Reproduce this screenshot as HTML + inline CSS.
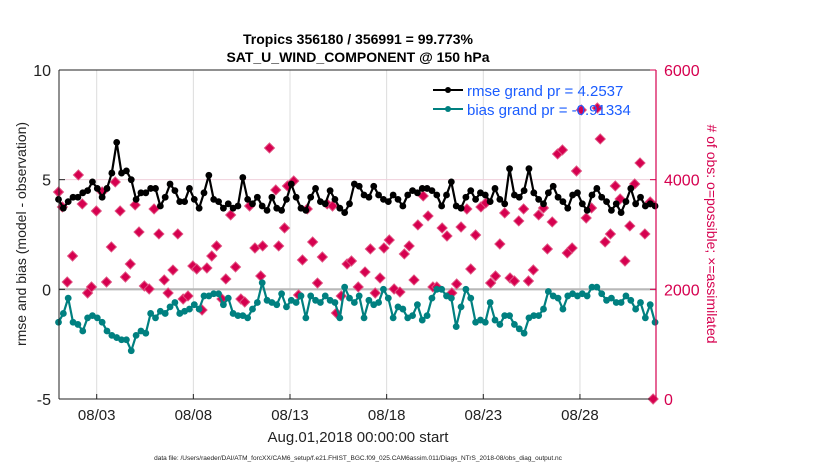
<!DOCTYPE html>
<html><head><meta charset="utf-8"><style>
body{margin:0;background:#fff;}
svg{display:block;font-family:"Liberation Sans",Arial,sans-serif;}
</style></head><body>
<svg id="chart" width="830" height="470" viewBox="0 0 830 470">
<text x="358" y="44" text-anchor="middle" font-size="14" font-weight="bold">Tropics 356180 / 356991 = 99.773%</text>
<text x="358" y="62" text-anchor="middle" font-size="14" font-weight="bold">SAT_U_WIND_COMPONENT @ 150 hPa</text>
<g id="gridG"></g>
<g id="seriesG"></g>
<g id="axesG"></g>
<g>
<line x1="433" y1="90" x2="463" y2="90" stroke="#000" stroke-width="2"/><circle cx="448" cy="90" r="3" fill="#000"/>
<text x="467" y="96" font-size="15" fill="#1a5cff">rmse grand pr = 4.2537</text>
<line x1="433" y1="109" x2="463" y2="109" stroke="#008080" stroke-width="2"/><circle cx="448" cy="109" r="3" fill="#008080"/>
<text x="467" y="115" font-size="15" fill="#1a5cff">bias grand pr = -0.91334</text>
</g>
<text x="358" y="442" text-anchor="middle" font-size="15" fill="#222">Aug.01,2018 00:00:00 start</text>
<text x="358" y="460" text-anchor="middle" font-size="6.5" fill="#222">data file: /Users/raeder/DAI/ATM_forcXX/CAM6_setup/f.e21.FHIST_BGC.f09_025.CAM6assim.011/Diags_NTrS_2018-08/obs_diag_output.nc</text>
<text transform="translate(26,234) rotate(-90)" text-anchor="middle" font-size="14" fill="#222">rmse and bias (model - observation)</text>
<text transform="translate(707,234) rotate(90)" text-anchor="middle" font-size="14" fill="#d6004f"># of obs: o=possible; ×=assimilated</text>
</svg>
<script>
const rmse=[4.1,3.7,4.0,4.2,4.2,4.4,4.5,4.9,4.6,4.2,4.6,5.3,6.7,5.3,5.4,5.0,4.1,4.4,4.4,4.6,4.6,3.8,4.2,4.8,4.5,4.0,4.0,4.6,4.1,3.7,4.4,5.2,4.1,4.0,3.7,3.9,3.7,3.8,5.1,4.1,3.9,4.2,3.8,3.6,4.2,3.7,3.6,4.1,4.8,4.2,3.7,3.6,4.2,4.6,4.0,3.9,4.5,4.1,3.7,3.5,3.9,4.8,4.7,4.3,4.2,4.7,4.3,4.1,4.0,4.3,4.1,3.8,4.3,4.5,4.4,4.6,4.6,4.5,4.3,3.8,4.3,4.9,3.8,3.7,4.2,4.5,4.1,4.4,4.3,4.0,4.6,4.1,3.9,5.5,4.3,4.2,4.5,5.5,4.4,4.1,3.9,4.4,4.7,4.2,4.0,3.7,4.3,4.4,3.9,3.6,4.3,4.6,4.2,4.0,3.6,3.9,3.5,4.0,4.6,3.9,4.2,3.8,3.9,3.8];
const bias=[-1.5,-1.1,-0.4,-1.5,-1.6,-1.9,-1.3,-1.2,-1.3,-1.5,-1.9,-2.1,-2.2,-2.3,-2.3,-2.8,-2.1,-1.9,-2.0,-1.1,-1.3,-1.0,-1.1,-0.8,-0.6,-1.1,-1.0,-0.9,-0.7,-0.9,-0.3,-0.3,-0.2,-0.2,-0.7,-0.4,-1.1,-1.2,-1.2,-1.3,-0.9,-0.6,0.3,-0.5,-0.6,-0.7,-0.2,-0.8,-0.5,-0.6,-0.3,-1.3,-0.3,-0.5,-0.6,-0.3,-0.5,-0.6,-1.3,0.1,-0.4,-0.6,-0.3,-1.3,-0.5,-0.7,-0.6,0.0,-0.4,-1.3,-0.8,-0.9,-1.3,-1.2,-0.7,-1.4,-1.2,-0.4,0.0,0.0,-0.3,-0.4,-1.7,-0.8,0.0,-0.4,-1.5,-1.4,-1.5,-0.6,-1.4,-1.6,-1.2,-1.2,-1.6,-1.8,-2.0,-1.3,-1.2,-1.2,-0.9,-0.1,-0.3,-0.4,-0.9,-0.3,-0.2,-0.3,-0.2,-0.3,0.1,0.1,-0.2,-0.5,-0.4,-0.6,-0.6,-0.3,-0.5,-0.9,-0.6,-1.3,-0.7,-1.5];
const obsIdx=[0.0,0.8,1.8,2.9,4.1,4.9,6.0,6.8,7.8,9.0,9.9,10.9,11.7,12.7,13.8,14.8,15.8,16.6,17.7,18.7,19.7,20.7,21.8,22.6,23.6,24.6,25.7,26.7,27.7,28.5,29.6,30.6,31.6,32.6,33.7,34.5,35.5,36.5,37.6,38.4,39.4,40.5,41.7,42.1,43.5,44.8,45.4,46.6,47.2,48.5,49.5,50.3,51.3,52.4,53.4,54.4,55.4,56.5,57.3,58.3,59.5,60.4,61.8,63.2,64.3,65.3,66.3,67.1,68.2,69.2,70.4,71.3,72.3,73.3,74.1,75.2,76.2,77.2,78.0,79.1,80.1,81.1,82.1,83.0,84.2,85.0,86.0,87.1,88.1,89.1,90.1,91.0,92.0,93.1,94.0,94.9,95.9,96.9,97.9,99.0,100.0,100.8,101.8,102.9,103.9,104.9,105.9,106.8,107.8,108.8,109.9,111.1,111.7,112.7,113.8,114.8,115.8,116.8,117.8,118.8,119.9,120.9,122.0,122.6];
const obsCount=[3775,3502,2134,2608,4086,3557,1933,2043,3429,3776,2134,2773,3958,3429,2225,2462,3539,3046,2061,2006,3466,3010,2171,1933,2352,3010,1824,1879,2426,2371,1623,2389,2608,2791,1824,2189,3356,2408,1824,1769,3520,2754,2243,2791,4578,3812,2791,3119,3885,3976,1897,2536,3466,2864,2115,2590,3557,3520,1568,1879,2462,2517,2043,2317,2736,1933,2207,2754,2900,2006,1951,2645,2791,2171,3174,3703,3338,2043,2043,3119,2973,1933,2097,3137,3465,2371,2991,3502,3575,2115,2243,2827,3393,2207,2152,3247,3466,2152,2353,3356,3484,2736,3229,4469,4542,2663,2754,4158,5271,3301,3484,5307,4742,2864,3010,3885,3648,2517,3156,3922,4305,3010,3593,0];
const leftTicks=[10,5,0,-5];
const rightTicks=[6000,4000,2000,0];
const dateTicks=[3,8,13,18,23,28];
const dateLabels=["08/03","08/08","08/13","08/18","08/23","08/28"];

const NS="http://www.w3.org/2000/svg";
const PL=59,PR=656,PT=70,PB=399;
const xIdx=i=>58.5+i*4.85;
const xDay=d=>96.7+(d-3)*19.33;
const yL=v=>PT+(10-v)/15*(PB-PT);
const yR=v=>PB-v/6000*(PB-PT);
function mk(tag,attrs,parent){const e=document.createElementNS(NS,tag);for(const k in attrs)e.setAttribute(k,attrs[k]);parent.appendChild(e);return e;}
const gridG=document.getElementById('gridG'),seriesG=document.getElementById('seriesG'),axesG=document.getElementById('axesG');
dateTicks.forEach((d,k)=>{
  const l=mk('line',{x1:xDay(d),x2:xDay(d),y1:PT,y2:PB,stroke:'#dcdcdc','stroke-width':1},gridG);
  
  
  const tk=mk('line',{x1:xDay(d),x2:xDay(d),y1:PB,y2:PB-5,stroke:'#222','stroke-width':1},axesG);
  
  
  const t=mk('text',{x:xDay(d),y:PB+21,'text-anchor':'middle','font-size':15,fill:'#222'},axesG);
  t.textContent=dateLabels[k];
  
  
});
const g4=mk('line',{x1:PL,x2:PR,y1:yR(4000),y2:yR(4000),stroke:'#f0d0dc','stroke-width':1},gridG);


const zl=mk('line',{x1:PL,x2:PR,y1:yL(0),y2:yL(0),stroke:'#b8b8b8','stroke-width':2.2},gridG);


obsIdx.forEach((ix,k)=>{
  const cx=xIdx(ix),cy=yR(obsCount[k]);
  const p=mk('path',{d:`M${cx-5},${cy}L${cx},${cy-5}L${cx+5},${cy}L${cx},${cy+5}Z`,fill:'#d6004f',stroke:'#e05080','stroke-width':1},seriesG);
  
  
});
function drawLine(vals,color,name){
  const pts=vals.map((v,i)=>xIdx(i).toFixed(1)+','+yL(v).toFixed(1)).join(' ');
  const pl=mk('polyline',{points:pts,fill:'none',stroke:color,'stroke-width':2.2,'stroke-linejoin':'round'},seriesG);
  
  
  vals.forEach((v,i)=>{
    const c=mk('circle',{cx:xIdx(i),cy:yL(v),r:3.4,fill:color},seriesG);
    
    
  });
}
drawLine(bias,'#008080','bias');
drawLine(rmse,'#000000','rmse');
const topAx=mk('line',{x1:PL,x2:PR,y1:PT,y2:PT,stroke:'#222','stroke-width':1},axesG);


const botAx=mk('line',{x1:PL,x2:PR,y1:PB,y2:PB,stroke:'#222','stroke-width':1},axesG);


const leftAx=mk('line',{x1:PL,x2:PL,y1:PT,y2:PB,stroke:'#222','stroke-width':1},axesG);


const rightAx=mk('line',{x1:PR,x2:PR,y1:PT,y2:PB,stroke:'#d6004f','stroke-width':1.2},axesG);


leftTicks.forEach(v=>{
  const tk=mk('line',{x1:PL,x2:PL+6,y1:yL(v),y2:yL(v),stroke:'#222'},axesG);
  
  
  const t=mk('text',{x:PL-8,y:yL(v)+6,'text-anchor':'end','font-size':16,fill:'#222'},axesG);
  t.textContent=v;
  
  
});
rightTicks.forEach(v=>{
  const tk=mk('line',{x1:PR-6,x2:PR,y1:yR(v),y2:yR(v),stroke:'#d6004f'},axesG);
  
  
  const t=mk('text',{x:PR+8,y:yR(v)+6,'font-size':16,fill:'#d6004f'},axesG);
  t.textContent=v;
  
  
});
</script>
</body></html>
